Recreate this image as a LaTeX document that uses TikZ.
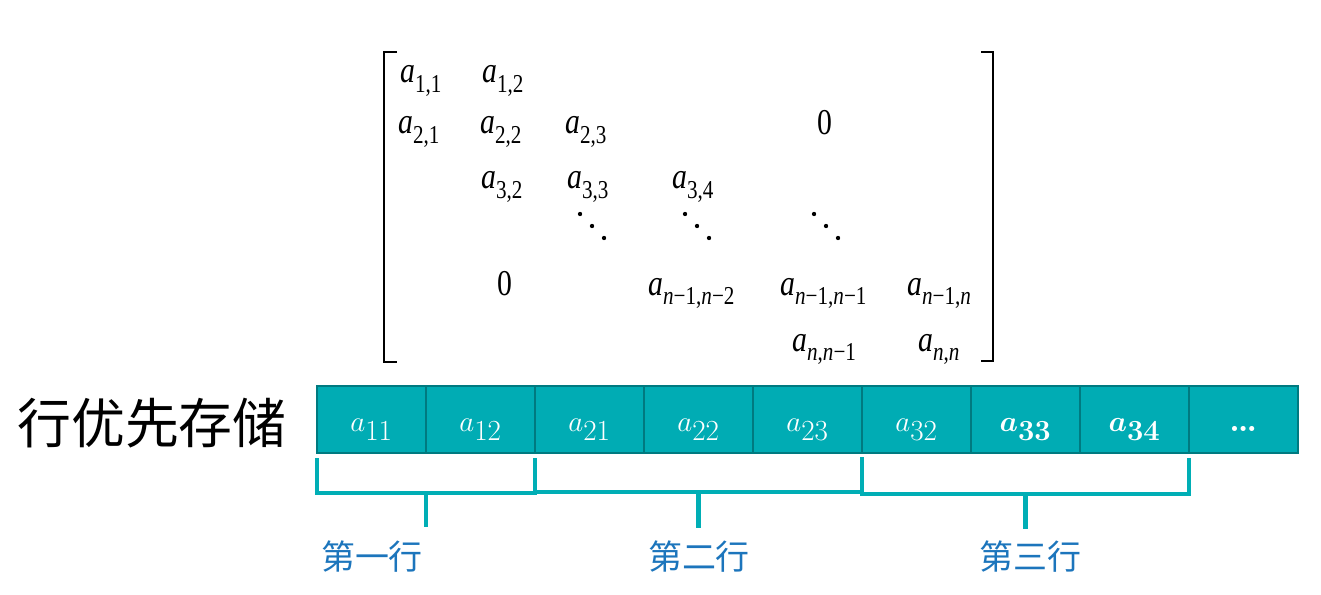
\documentclass[tikz,border=0pt]{standalone}
\usepackage{amsmath}
\usepackage{fontspec}
\usepackage{tikz}
\usetikzlibrary{positioning}

\newfontfamily\cjk{Noto Sans CJK SC}
\newfontfamily\mtxfont[FakeStretch=0.82]{Liberation Serif}

\definecolor{cellfill}{RGB}{0,172,180}
\definecolor{celledge}{RGB}{0,122,128}
\definecolor{bracecol}{RGB}{0,174,181}
\definecolor{rowblue}{RGB}{28,117,188}

\newcommand{\ent}[1]{\textit{a}\raisebox{-0.25em}{\fontsize{22}{22}\selectfont #1}}
\newcommand{\nn}{\textit{n}}

\begin{document}
\begin{tikzpicture}[x=0.03cm, y=-0.03cm,
  cell/.style={draw=celledge, line width=1.7pt, fill=cellfill, text=white, minimum width=3.27cm, minimum height=2.01cm, outer sep=0pt, inner sep=0pt, text height=0.72cm, text depth=0cm, font=\fontsize{36}{40}\selectfont},
  entry/.style={anchor=base west, inner sep=0pt, font=\mtxfont\fontsize{31}{33}\selectfont},
  brace/.style={draw=bracecol, line width=3.8pt},
  rowlab/.style={text=rowblue, font=\cjk\fontsize{29}{32}\selectfont}]
  \useasboundingbox (0,0) rectangle (1321,595);

  % The matrix
  \draw[line width=2.2pt] (397,52) -| (384,362) -- (397,362);
  \draw[line width=2.2pt] (981,52) -| (993,361) -- (981,361);

  \node[entry] (m11) at (400,83) {\ent{1,1}};
  \node[entry] (m12) at (482,83) {\ent{1,2}};
  \node[entry] (m21) at (398,134) {\ent{2,1}};
  \node[entry] (m22) at (480,134) {\ent{2,2}};
  \node[entry] (m23) at (565,134) {\ent{2,3}};
  \node[entry] (zup) at (817,135) {0};
  \node[entry] (m32) at (481,189) {\ent{3,2}};
  \node[entry] (m33) at (567,189) {\ent{3,3}};
  \node[entry] (m34) at (672,189) {\ent{3,4}};
  \node[entry] (zlow) at (497,295) {0};
  \node[entry] (mlast2) at (648,295) {\ent{\nn−1,\nn−2}};
  \node[entry] (mlast1) at (780,295) {\ent{\nn−1,\nn−1}};
  \node[entry] (mlastn) at (907,295) {\ent{\nn−1,\nn}};
  \node[entry] (mnn1) at (792,351) {\ent{\nn,\nn−1}};
  \node[entry] (mnn) at (918,351) {\ent{\nn,\nn}};

  % diagonal dots
  \foreach \dx in {580,685,814}
    \foreach \k in {0,1,2}
      \fill (\dx+\k*12,214+\k*12) circle (0.065cm);

  % Row-major storage
  \node[font=\cjk\fontsize{46}{50}\selectfont] (rowmajor) at (152,423) {行优先存储};

  \node[cell] (c11) at (371.5,419.5) {$a_{11}$};
  \node[cell, right=0pt of c11] (c12) {$a_{12}$};
  \node[cell, right=0pt of c12] (c21) {$a_{21}$};
  \node[cell, right=0pt of c21] (c22) {$a_{22}$};
  \node[cell, right=0pt of c22] (c23) {$a_{23}$};
  \node[cell, right=0pt of c23] (c32) {$a_{32}$};
  \node[cell, right=0pt of c32] (c33) {$\boldsymbol{a}_{\boldsymbol{33}}$};
  \node[cell, right=0pt of c33] (c34) {$\boldsymbol{a}_{\boldsymbol{34}}$};
  \node[cell, right=0pt of c34] (cdots) {\bfseries\fontsize{30}{30}\selectfont\ldots};

  % Braces for each row
  \draw[brace] ([yshift=-0.15cm]c11.south west) -- ++(0,35) -| ([yshift=-0.15cm]c12.south east);
  \draw[brace] ([yshift=-1.17cm]c11.south east) -- ++(0,35);
  \draw[brace] ([yshift=-1.17cm]c21.south west) -- ([yshift=-1.17cm]c23.south east);
  \draw[brace] ([yshift=-1.17cm]c22.south) -- ++(0,36);
  \draw[brace] ([yshift=-0.12cm]c32.south west) -- ++(0,37) -| ([yshift=-0.15cm]c34.south east);
  \draw[brace] ([yshift=-1.23cm]c33.south) -- ++(0,35);

  \node[rowlab] (row1) at (372,557) {第一行};
  \node[rowlab] (row2) at (699,557) {第二行};
  \node[rowlab] (row3) at (1030,557) {第三行};

\end{tikzpicture}
\end{document}
